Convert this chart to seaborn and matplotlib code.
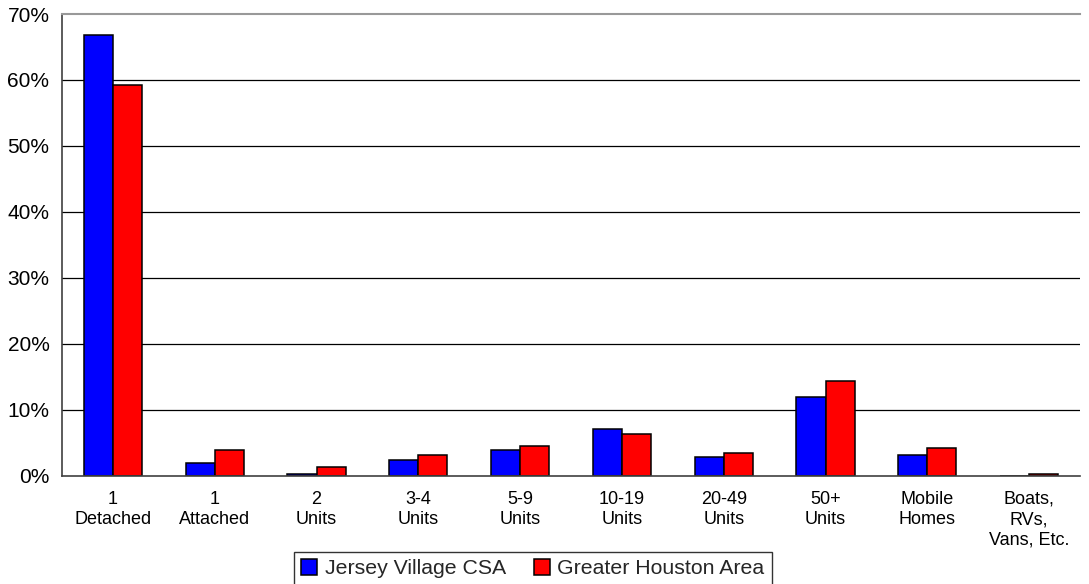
import matplotlib
matplotlib.use("Agg")
import matplotlib.pyplot as plt
import seaborn as sns
import pandas as pd
import numpy as np

categories = ["1\nDetached", "1\nAttached", "2\nUnits", "3-4\nUnits", "5-9\nUnits",
              "10-19\nUnits", "20-49\nUnits", "50+\nUnits", "Mobile\nHomes",
              "Boats,\nRVs,\nVans, Etc."]
jersey_village = [66.8, 1.9, 0.3, 2.4, 3.9, 7.1, 2.9, 12.0, 3.1, 0.0]
greater_houston = [59.2, 3.9, 1.3, 3.1, 4.5, 6.3, 3.4, 14.3, 4.2, 0.3]
series_names = ["Jersey Village CSA", "Greater Houston Area"]
y_ticks = [0, 10, 20, 30, 40, 50, 60, 70]

df = pd.DataFrame({
    "category": categories * 2,
    "value": jersey_village + greater_houston,
    "series": [series_names[0]] * len(categories) + [series_names[1]] * len(categories),
})

sns.set_theme(style="white")
plt.rcParams["font.family"] = ["Liberation Sans", "DejaVu Sans"]

fig = plt.figure(figsize=(10.89, 5.84), dpi=100)
ax = fig.add_axes([62 / 1089, (584 - 475.7) / 584, (1080 - 62) / 1089, (475.7 - 14) / 584])

sns.barplot(data=df, x="category", y="value", hue="series", order=categories,
            hue_order=series_names, palette=["#0000FF", "#FF0000"],
            edgecolor="black", linewidth=1.1, width=0.57, gap=0,
            saturation=1, ax=ax, zorder=3)

ax.set_ylim(0, 70)
ax.set_xlim(-0.5, len(categories) - 0.5)
ax.set_yticks(y_ticks)
ax.set_yticklabels([f"{t}%" for t in y_ticks], fontsize=15, color="black")
ax.set_xticks(range(len(categories)))
ax.set_xticklabels(categories, fontsize=13, color="black", linespacing=1.25)
ax.set_xticks(np.arange(-0.5, len(categories), 1.0), minor=True)
ax.tick_params(axis="x", which="major", length=0, pad=11)
ax.tick_params(axis="x", which="minor", length=6, width=1, color="#404040", direction="out")
ax.tick_params(axis="y", length=5, width=1, color="#404040", direction="out", pad=4)
ax.set_xlabel("")
ax.set_ylabel("")

for t in y_ticks[1:-1]:
    ax.axhline(t, color="black", linewidth=0.9, zorder=1)

ax.spines["right"].set_visible(False)
ax.spines["top"].set_color("#999999")
ax.spines["top"].set_linewidth(1.5)
ax.spines["left"].set_color("#404040")
ax.spines["left"].set_linewidth(1.2)
ax.spines["bottom"].set_color("#404040")
ax.spines["bottom"].set_linewidth(1.2)
ax.spines["bottom"].set_zorder(4)

handles, labels = ax.get_legend_handles_labels()
if ax.legend_:
    ax.legend_.remove()
leg = fig.legend(handles, labels, loc="upper left",
                 bbox_to_anchor=(294 / 1089, (584 - 551.5) / 584),
                 bbox_transform=fig.transFigure, ncol=2, fontsize=15.3,
                 frameon=True, fancybox=False, edgecolor="black",
                 handlelength=0.75, handleheight=0.75, handletextpad=0.35,
                 columnspacing=1.3, borderpad=0.35, borderaxespad=0)
leg.get_frame().set_linewidth(1.0)

fig.savefig("out.png", dpi=100, facecolor="white")
